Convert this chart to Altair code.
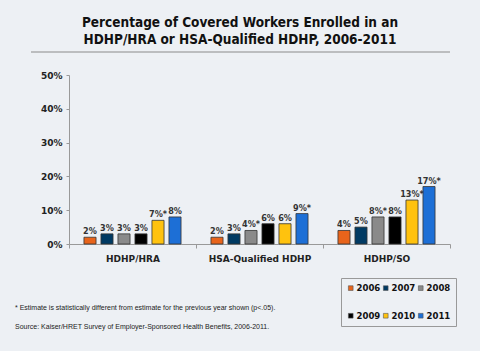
import altair as alt
import pandas as pd

groups = ["HDHP/HRA", "HSA-Qualified HDHP", "HDHP/SO"]
years = ["2006", "2007", "2008", "2009", "2010", "2011"]
hra = [2, 3, 3, 3, 7, 8]
hsa = [2, 3, 4, 6, 6, 9]
so = [4, 5, 8, 8, 13, 17]
hra_sig = ["", "", "", "", "*", ""]
hsa_sig = ["", "", "*", "", "", "*"]
so_sig = ["", "", "*", "", "*", "*"]
colors = ["#e8641b", "#003a63", "#8a8a8a", "#000000", "#ffc20e", "#1d6fd6"]

title_lines = ["Percentage of Covered Workers Enrolled in an",
               "HDHP/HRA or HSA-Qualified HDHP, 2006-2011"]
note1 = "* Estimate is statistically different from estimate for the previous year shown (p<.05)."
note2 = "Source:  Kaiser/HRET Survey of Employer-Sponsored Health Benefits, 2006-2011."

rows = []
for g, vals, sig in [(groups[0], hra, hra_sig), (groups[1], hsa, hsa_sig), (groups[2], so, so_sig)]:
    for y, v, s in zip(years, vals, sig):
        rows.append({"group": g, "year": y, "value": v, "label": f"{v}%{s}"})
df = pd.DataFrame(rows)

BG = "#edf0f4"
W, H = 381, 169
L, T = 69, 75

xenc = alt.X("group:N", sort=groups, title=None,
             scale=alt.Scale(paddingInner=0, paddingOuter=0),
             axis=alt.Axis(labelAngle=0, labelFont="DejaVu Sans", labelFontWeight="bold",
                           labelFontSize=9, labelColor="#222", tickBand="extent", tickSize=4,
                           tickColor="#999", domainColor="#999", labelPadding=6))
xoff = alt.XOffset("year:N", sort=years, scale=alt.Scale(paddingInner=0.29, paddingOuter=0.88))
yenc = alt.Y("value:Q", title=None,
             scale=alt.Scale(domain=[0, 50]),
             axis=alt.Axis(values=[0, 10, 20, 30, 40, 50], labelExpr="datum.value + '%'",
                           grid=False, labelFont="DejaVu Sans", labelFontWeight="bold",
                           labelFontSize=9, labelColor="#222", tickSize=3, tickColor="#999",
                           domainColor="#999", labelPadding=4))

base = alt.Chart(df).encode(x=xenc, xOffset=xoff, y=yenc)

bars = base.mark_bar(stroke="#333", strokeWidth=0.8).encode(
    color=alt.Color("year:N", sort=years,
                    scale=alt.Scale(domain=years, range=colors),
                    legend=alt.Legend(title=None, orient="none", legendX=272, legendY=203,
                                      direction="horizontal", columns=3,
                                      symbolType="square", symbolSize=22,
                                      symbolStrokeColor="#555", symbolStrokeWidth=0.6,
                                      labelFont="DejaVu Sans Condensed", labelFontWeight="bold",
                                      labelFontSize=9.5, labelColor="#111",
                                      columnPadding=0, rowPadding=17, labelOffset=1,
                                      strokeColor="#999", fillColor=BG, padding=5)),
)

texts = base.mark_text(dy=-6, font="DejaVu Sans Condensed", fontWeight="bold",
                       fontSize=9, color="#333").encode(text="label:N")


def text_line(s, x, y, **kw):
    return alt.Chart(pd.DataFrame({"t": [s]})).mark_text(**kw).encode(
        x=alt.value(x - L), y=alt.value(y - T), text="t:N")


tkw = dict(font="DejaVu Sans Condensed", fontWeight="bold", fontSize=13.5,
           color="#111", align="center", baseline="alphabetic")
t1 = text_line(title_lines[0], 240, 27, **tkw)
t2 = text_line(title_lines[1], 240, 44, **tkw)

rule = alt.Chart(pd.DataFrame({"a": [0]})).mark_rule(color="#8a8a8a", strokeWidth=1).encode(
    x=alt.value(31 - L), x2=alt.value(450 - L), y=alt.value(52 - T))

nkw = dict(font="Liberation Sans Narrow, Liberation Sans", fontSize=7,
           color="#222", align="left", baseline="middle")
n1 = text_line(note1, 15, 308, **nkw)
n2 = text_line(note2, 15, 327, **nkw)

chart = alt.layer(bars, texts, t1, t2, rule, n1, n2).properties(
    width=W, height=H, background=BG,
    autosize=alt.AutoSizeParams(type="none"),
    padding={"left": L, "top": T, "right": 30, "bottom": 107},
).configure_view(stroke=None)

chart.save("out.html", embed_options={"renderer": "svg", "actions": False})
